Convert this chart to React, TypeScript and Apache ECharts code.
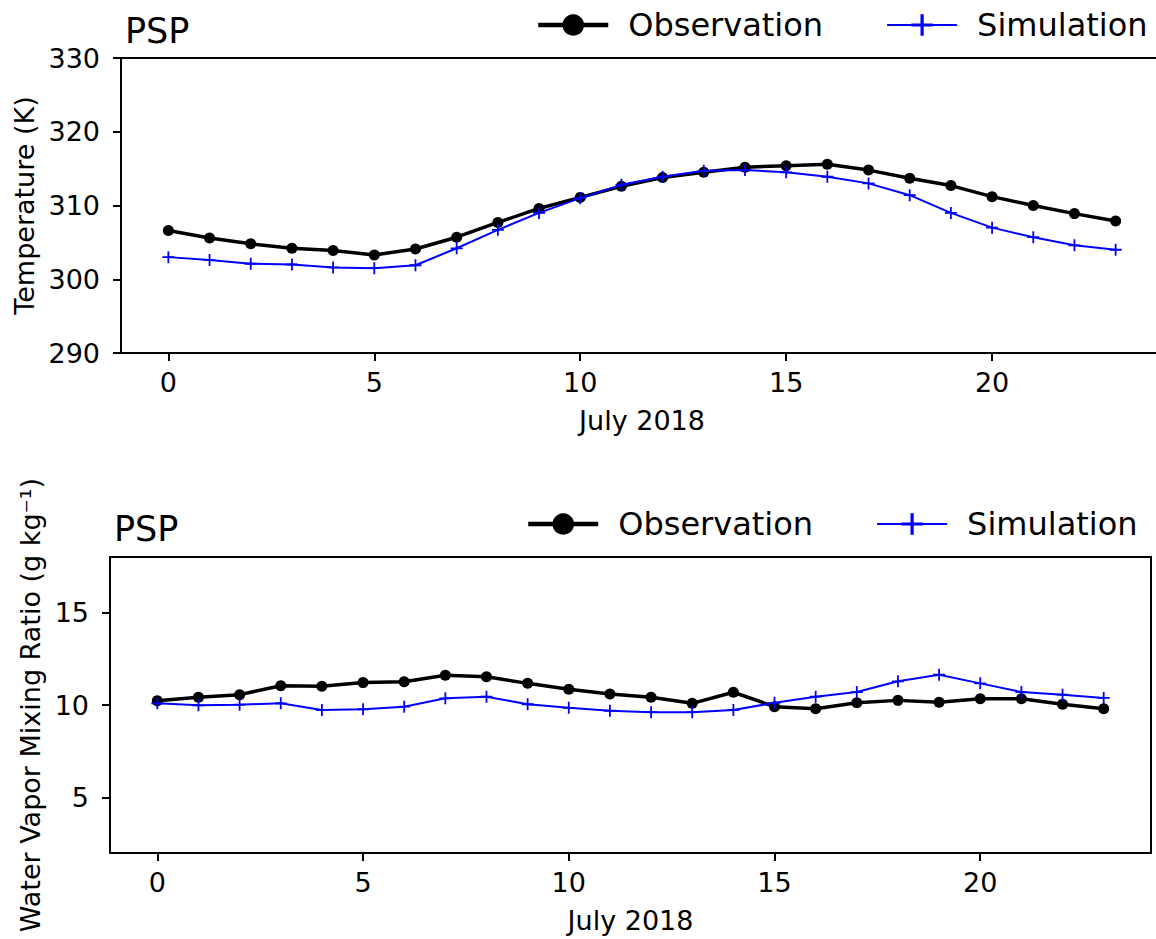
import React, { useEffect, useRef } from "react";
import * as echarts from "echarts";

const hours = [0, 1, 2, 3, 4, 5, 6, 7, 8, 9, 10, 11, 12, 13, 14, 15, 16, 17, 18, 19, 20, 21, 22, 23];
const xTicks = [0, 5, 10, 15, 20];

const tempObs = [306.6, 305.6, 304.8, 304.2, 303.9, 303.3, 304.1, 305.7, 307.7, 309.6, 311.1, 312.6,
  313.8, 314.5, 315.2, 315.4, 315.6, 314.8, 313.7, 312.7, 311.2, 310.0, 308.9, 307.9];
const tempSim = [303.0, 302.6, 302.1, 302.0, 301.6, 301.5, 301.9, 304.2, 306.7, 309.0, 311.0, 312.8,
  313.9, 314.7, 314.8, 314.5, 313.9, 313.0, 311.4, 309.0, 307.0, 305.7, 304.6, 304.0];

const wvObs = [10.23, 10.42, 10.56, 11.04, 11.01, 11.21, 11.26, 11.61, 11.53, 11.17, 10.85, 10.59,
  10.42, 10.09, 10.69, 9.91, 9.8, 10.12, 10.25, 10.15, 10.34, 10.34, 10.04, 9.8];
const wvSim = [10.09, 9.98, 10.02, 10.09, 9.73, 9.77, 9.91, 10.36, 10.45, 10.04, 9.85, 9.69,
  9.61, 9.61, 9.73, 10.12, 10.45, 10.7, 11.28, 11.64, 11.17, 10.7, 10.56, 10.38];

const FONT = "DejaVu Sans";
const PLUS = "path://M5.1,0H6.9V5.1H12V6.9H6.9V12H5.1V6.9H0V5.1H5.1Z";
const TICK_FS = 27;

function pairs(v: number[]) {
  return hours.map((h, i) => [h, v[i]]);
}

function xAxis(gridIndex: number) {
  return {
    type: "value",
    gridIndex,
    min: -1.15,
    max: 24.15,
    name: "July 2018",
    nameLocation: "middle",
    nameGap: 54,
    nameTextStyle: { fontFamily: FONT, fontSize: TICK_FS, color: "#000" },
    axisLine: { show: true, onZero: false, lineStyle: { color: "#000", width: 2 } },
    axisTick: { show: true, inside: false, length: 8, customValues: xTicks, lineStyle: { color: "#000", width: 2 } },
    axisLabel: { customValues: xTicks, margin: 16, fontFamily: FONT, fontSize: TICK_FS, color: "#000" },
    splitLine: { show: false },
  };
}

function yAxis(gridIndex: number, min: number, max: number, interval: number, name: string, nameGap: number, labels?: number[]) {
  const a: any = {
    type: "value",
    gridIndex,
    min,
    max,
    name,
    nameLocation: "middle",
    nameGap,
    nameRotate: 90,
    nameTextStyle: { fontFamily: FONT, fontSize: TICK_FS, color: "#000" },
    axisLine: { show: true, onZero: false, lineStyle: { color: "#000", width: 2 } },
    axisTick: { show: true, inside: false, length: 8, lineStyle: { color: "#000", width: 2 } },
    axisLabel: { margin: 21, fontFamily: FONT, fontSize: TICK_FS, color: "#000" },
    splitLine: { show: false },
  };
  if (labels) {
    a.axisLabel.customValues = labels;
    a.axisTick.customValues = labels;
  } else {
    a.interval = interval;
  }
  return a;
}

function obsSeries(data: number[], idx: number) {
  return {
    name: "Observation",
    type: "line",
    xAxisIndex: idx,
    yAxisIndex: idx,
    data: pairs(data),
    symbol: "circle",
    symbolSize: 11,
    showAllSymbol: true,
    itemStyle: { color: "#000" },
    lineStyle: { color: "#000", width: 3.5 },
    z: 2,
  };
}

function simSeries(data: number[], idx: number) {
  return {
    name: "Simulation",
    type: "line",
    xAxisIndex: idx,
    yAxisIndex: idx,
    data: pairs(data),
    symbol: PLUS,
    symbolSize: 12,
    showAllSymbol: true,
    itemStyle: { color: "#0000ff" },
    lineStyle: { color: "#0000ff", width: 2 },
    z: 3,
  };
}

function legend(left: number, top: number) {
  return {
    left,
    top,
    width: 700,
    padding: 0,
    orient: "horizontal",
    itemWidth: 70,
    itemHeight: 27,
    itemGap: 63,
    selectedMode: false,
    data: [
      { name: "Observation", lineStyle: { width: 4.5, color: "#000" } },
      { name: "Simulation", lineStyle: { width: 2, color: "#0000ff" } },
    ],
    textStyle: { fontFamily: FONT, fontSize: 32, color: "#000", padding: [0, 0, 0, 15] },
  };
}

export default function App() {
  const ref = useRef<HTMLDivElement>(null);
  useEffect(() => {
    const chart = echarts.init(ref.current!, null, { renderer: "svg" });
    chart.setOption({
      animation: false,
      backgroundColor: "#fff",
      title: [
        { text: "PSP", left: 120, top: 8, textStyle: { fontFamily: FONT, fontSize: 35, fontWeight: "normal", color: "#000" } },
        { text: "PSP", left: 109, top: 506, textStyle: { fontFamily: FONT, fontSize: 35, fontWeight: "normal", color: "#000" } },
      ],
      legend: [legend(536, 9), legend(526, 508)],
      grid: [
        { left: 121, top: 58, width: 1042, height: 295, show: false, containLabel: false, outerBoundsMode: "none" },
        { left: 110, top: 557, width: 1041, height: 296, show: true, borderColor: "#000", borderWidth: 2, containLabel: false, outerBoundsMode: "none" },
      ],
      xAxis: [
        xAxis(0),
        xAxis(1),
        {
          type: "value",
          gridIndex: 0,
          position: "top",
          min: -1.15,
          max: 24.15,
          axisLine: { show: true, onZero: false, lineStyle: { color: "#000", width: 2 } },
          axisTick: { show: false },
          axisLabel: { show: false },
          splitLine: { show: false },
        },
      ],
      yAxis: [
        yAxis(0, 290, 330, 10, "Temperature (K)", 83),
        yAxis(1, 2, 18, 5, "Water Vapor Mixing Ratio (g kg\u207B\u00B9)", 65, [5, 10, 15]),
      ],
      series: [obsSeries(tempObs, 0), simSeries(tempSim, 0), obsSeries(wvObs, 1), simSeries(wvSim, 1)],
    });
    return () => chart.dispose();
  }, []);
  return <div ref={ref} style={{ position: "fixed", left: 0, top: 0, width: 1156, height: 939 }} />;
}
